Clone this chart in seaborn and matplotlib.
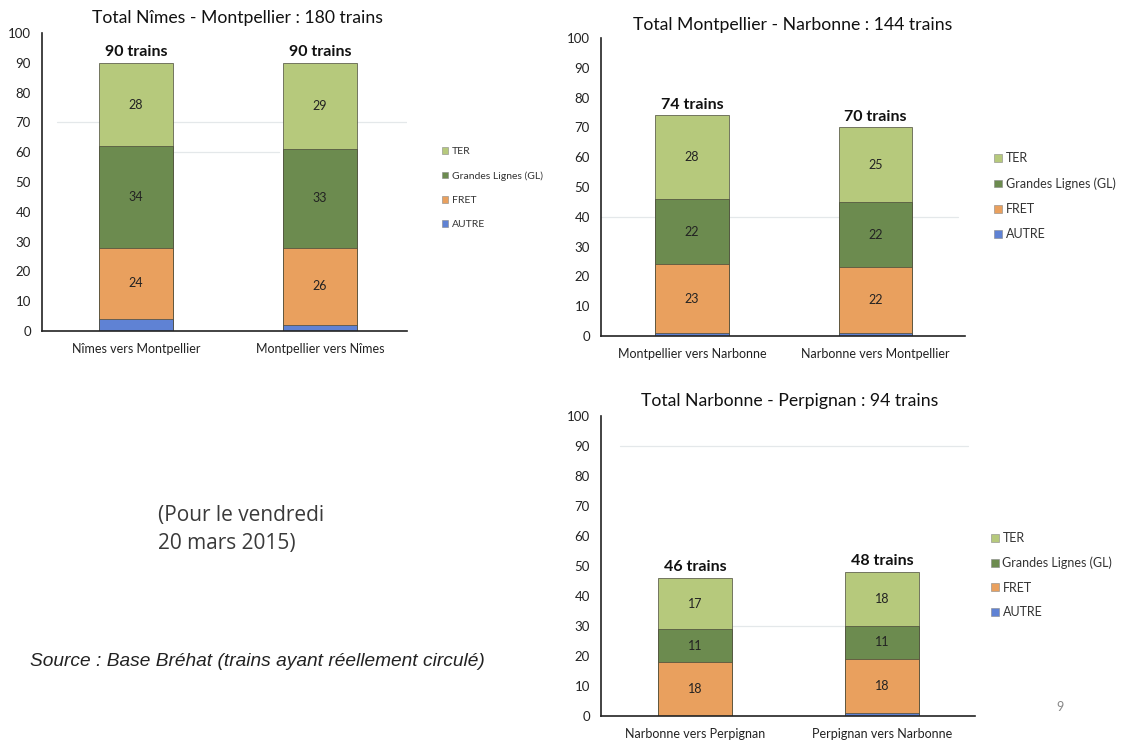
import matplotlib
matplotlib.use("Agg")
import matplotlib.pyplot as plt
from matplotlib.patches import Patch
import numpy as np
import pandas as pd
import seaborn as sns

sns.set_theme(style="white")
plt.rcParams["font.family"] = ["Lato", "DejaVu Sans"]

# Series (bottom to top): AUTRE, FRET, Grandes Lignes, TER
series = ["AUTRE", "FRET", "Grandes Lignes (GL)", "TER"]
colors = {"AUTRE": "#5f82d4", "FRET": "#e9a05e",
          "Grandes Lignes (GL)": "#6c8b4f", "TER": "#b6c97c"}

titles = ["Total Nîmes - Montpellier : 180 trains",
          "Total Montpellier - Narbonne : 144 trains",
          "Total Narbonne - Perpignan : 94 trains"]

cats_nm = ["Nîmes vers Montpellier", "Montpellier vers Nîmes"]
cats_mn = ["Montpellier vers Narbonne", "Narbonne vers Montpellier"]
cats_np = ["Narbonne vers Perpignan", "Perpignan vers Narbonne"]

autre_nm = [4, 2]
fret_nm = [24, 26]
gl_nm = [34, 33]
ter_nm = [28, 29]

autre_mn = [1, 1]
fret_mn = [23, 22]
gl_mn = [22, 22]
ter_mn = [28, 25]

autre_np = [0, 1]
fret_np = [18, 18]
gl_np = [11, 11]
ter_np = [17, 18]

W, H = 1135, 742
fig = plt.figure(figsize=(W / 100, H / 100), dpi=100)
fig.patch.set_facecolor("white")


def px_axes(left, top, right, bottom):
    return fig.add_axes([left / W, 1 - bottom / H, (right - left) / W, (bottom - top) / H])


panels = [
    dict(box=(42, 33, 407, 331), cats=cats_nm,
         vals=[autre_nm, fret_nm, gl_nm, ter_nm], xlim=(-0.511, 1.473),
         title_xy=(238, 18), legend=(437, 153), legend_fs=7.5, legend_sp=1.45,
         grid=[(70, 0.04, 1.0), (60, 0.36, 0.65)]),
    dict(box=(601, 38, 965, 336), cats=cats_mn,
         vals=[autre_mn, fret_mn, gl_mn, ter_mn], xlim=(-0.497, 1.49),
         title_xy=(793, 25), legend=(988, 157), legend_fs=9, legend_sp=1.05,
         grid=[(40, 0.0, 0.98)]),
    dict(box=(601, 416, 975, 716), cats=cats_np,
         vals=[autre_np, fret_np, gl_np, ter_np], xlim=(-0.503, 1.497),
         title_xy=(790, 401), legend=(985, 537), legend_fs=9, legend_sp=1.0,
         grid=[(90, 0.05, 0.98), (30, 0.35, 0.65)]),
]

for p, title in zip(panels, titles):
    ax = px_axes(*p["box"])
    df = pd.DataFrame({"route": p["cats"]})
    for s, v in zip(series, p["vals"]):
        df[s] = v
    cum = df[series].cumsum(axis=1)

    for y, x0, x1 in p["grid"]:
        ax.axhline(y, xmin=x0, xmax=x1, color="#e4e8ea", lw=0.9, zorder=0)

    # Stacked bars drawn as overlapping cumulative totals, tallest first
    for s in reversed(series):
        sns.barplot(x=df["route"], y=cum[s], order=p["cats"], color=colors[s],
                    width=0.4, saturation=1, edgecolor="#4a4a3a", linewidth=0.5,
                    ax=ax, zorder=2)

    # Segment values
    for i in range(len(df)):
        bottom = 0
        for s in series:
            v = df.loc[i, s]
            if s != "AUTRE" and v > 0:
                ax.text(i, bottom + v / 2, f"{v}", ha="center", va="center",
                        fontsize=9, color="#222222", zorder=3)
            bottom += v
        ax.text(i, bottom + 1.2, f"{bottom} trains", ha="center", va="bottom",
                fontsize=11.5, fontweight="bold", color="#111111", zorder=3)

    ax.set_xlim(*p["xlim"])
    ax.set_ylim(0, 100)
    ax.set_yticks(np.arange(0, 101, 10))
    ax.set_xlabel("")
    ax.set_ylabel("")
    ax.tick_params(axis="y", labelsize=9.5, colors="#222222", pad=8, length=0)
    ax.tick_params(axis="x", labelsize=9, colors="#222222", pad=9, length=0)
    for side in ["top", "right"]:
        ax.spines[side].set_visible(False)
    for side in ["left", "bottom"]:
        ax.spines[side].set_color("#222222")
        ax.spines[side].set_linewidth(1.2)
    ax.set_facecolor("none")

    tx, ty = p["title_xy"]
    fig.text(tx / W, 1 - ty / H, title,
             ha="center", va="center", fontsize=12.7, color="#111111")

    handles = [Patch(facecolor=colors[s], edgecolor="#888888", linewidth=0.4, label=s)
               for s in reversed(series)]
    lx, ly = p["legend"]
    fig.legend(handles=handles, loc="upper left",
               bbox_to_anchor=(lx / W, 1 - (ly - 11) / H), frameon=False,
               fontsize=p["legend_fs"], handlelength=0.6, handleheight=0.6,
               handletextpad=0.3, labelspacing=p["legend_sp"],
               borderpad=0, labelcolor="#333333")

fig.text(158 / W, 1 - 515 / H, "(Pour le vendredi", fontsize=15, color="#3a3a3a",
         va="center", family=["Open Sans", "DejaVu Sans"])
fig.text(158 / W, 1 - 543 / H, "20 mars 2015)", fontsize=15, color="#3a3a3a",
         va="center", family=["Open Sans", "DejaVu Sans"])
fig.text(30 / W, 1 - 662 / H, "Source : Base Bréhat (trains ayant réellement circulé)",
         fontsize=13.8, style="italic", color="#222222", va="center",
         family=["Liberation Sans", "DejaVu Sans"])
fig.text(1060 / W, 1 - 707 / H, "9", fontsize=9, color="#888888", ha="center", va="center")

fig.savefig("out.png", dpi=100, facecolor="white")
